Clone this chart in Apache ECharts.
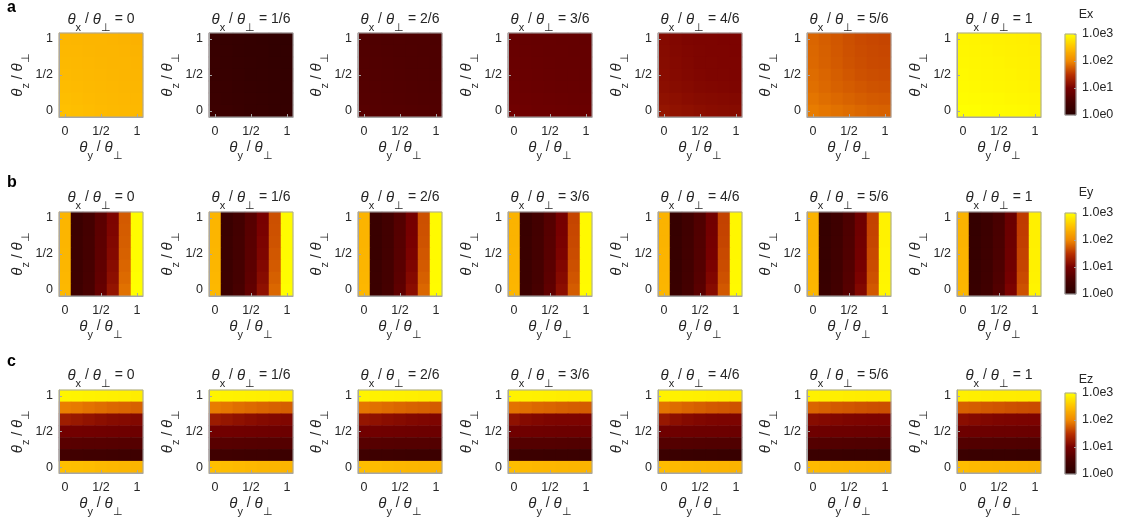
<!DOCTYPE html>
<html>
<head>
<meta charset="utf-8">
<script src="https://cdn.jsdelivr.net/npm/echarts/dist/echarts.min.js"></script>
<style>
html, body { margin: 0; padding: 0; background: #ffffff; }
#chart { width: 1121px; height: 518px; }
</style>
</head>
<body>
<div id="chart"></div>
<script>
// Field magnitudes as log10 values (colour scale 1.0e0 .. 1.0e3).
// Each panel is a 7x7 grid; rows run from the top (θz/θ⊥ = 1) down to θz/θ⊥ = 0,
// columns run from θy/θ⊥ = 0 to 1.

const thetaXLabels = ['0', '1/6', '2/6', '3/6', '4/6', '5/6', '1'];
const tickCats = ['0', '1/6', '1/3', '1/2', '2/3', '5/6', '1'];
const fieldNames = ['Ex', 'Ey', 'Ez'];
const rowLetters = ['a', 'b', 'c'];
const colorbarExponents = [0, 1, 2, 3];

const logEx = [
  [ // θx/θ⊥ = 0
    [2.42, 2.41, 2.40, 2.40, 2.39, 2.38, 2.37],
    [2.43, 2.42, 2.41, 2.40, 2.40, 2.39, 2.38],
    [2.44, 2.43, 2.42, 2.41, 2.40, 2.40, 2.39],
    [2.45, 2.44, 2.43, 2.42, 2.41, 2.40, 2.40],
    [2.46, 2.45, 2.44, 2.43, 2.42, 2.41, 2.41],
    [2.48, 2.46, 2.45, 2.44, 2.43, 2.42, 2.42],
    [2.50, 2.48, 2.46, 2.45, 2.44, 2.43, 2.43]
  ],
  [ // 1/6
    [0.24, 0.22, 0.20, 0.18, 0.17, 0.15, 0.14],
    [0.25, 0.23, 0.21, 0.19, 0.18, 0.16, 0.15],
    [0.26, 0.24, 0.22, 0.20, 0.19, 0.17, 0.16],
    [0.27, 0.25, 0.23, 0.21, 0.20, 0.18, 0.17],
    [0.28, 0.26, 0.24, 0.22, 0.21, 0.19, 0.18],
    [0.30, 0.27, 0.25, 0.23, 0.22, 0.20, 0.19],
    [0.32, 0.29, 0.26, 0.24, 0.23, 0.21, 0.20]
  ],
  [ // 2/6
    [0.58, 0.57, 0.56, 0.56, 0.55, 0.55, 0.54],
    [0.59, 0.58, 0.57, 0.56, 0.56, 0.55, 0.55],
    [0.60, 0.59, 0.58, 0.57, 0.56, 0.56, 0.55],
    [0.61, 0.60, 0.59, 0.58, 0.57, 0.57, 0.56],
    [0.62, 0.61, 0.60, 0.59, 0.58, 0.57, 0.57],
    [0.64, 0.62, 0.61, 0.60, 0.59, 0.58, 0.58],
    [0.66, 0.64, 0.63, 0.62, 0.61, 0.60, 0.59]
  ],
  [ // 3/6
    [0.82, 0.81, 0.80, 0.80, 0.79, 0.79, 0.78],
    [0.83, 0.82, 0.81, 0.80, 0.80, 0.79, 0.79],
    [0.84, 0.83, 0.82, 0.81, 0.80, 0.80, 0.79],
    [0.85, 0.84, 0.83, 0.82, 0.81, 0.81, 0.80],
    [0.87, 0.85, 0.84, 0.83, 0.82, 0.82, 0.81],
    [0.89, 0.87, 0.86, 0.85, 0.84, 0.83, 0.83],
    [0.92, 0.90, 0.88, 0.87, 0.86, 0.85, 0.85]
  ],
  [ // 4/6
    [1.10, 1.07, 1.05, 1.04, 1.04, 1.03, 1.03],
    [1.11, 1.08, 1.06, 1.05, 1.04, 1.04, 1.03],
    [1.12, 1.09, 1.07, 1.05, 1.05, 1.04, 1.04],
    [1.13, 1.10, 1.08, 1.06, 1.05, 1.05, 1.04],
    [1.15, 1.12, 1.10, 1.08, 1.07, 1.06, 1.05],
    [1.18, 1.16, 1.13, 1.11, 1.10, 1.09, 1.08],
    [1.22, 1.19, 1.17, 1.15, 1.13, 1.12, 1.11]
  ],
  [ // 5/6
    [1.80, 1.76, 1.72, 1.68, 1.65, 1.63, 1.62],
    [1.81, 1.77, 1.73, 1.69, 1.66, 1.64, 1.63],
    [1.82, 1.78, 1.74, 1.70, 1.67, 1.65, 1.64],
    [1.84, 1.80, 1.76, 1.72, 1.69, 1.67, 1.66],
    [1.86, 1.82, 1.78, 1.75, 1.72, 1.70, 1.69],
    [1.89, 1.85, 1.82, 1.79, 1.76, 1.74, 1.73],
    [1.93, 1.90, 1.87, 1.84, 1.81, 1.79, 1.78]
  ],
  [ // 1
    [2.92, 2.91, 2.90, 2.89, 2.88, 2.87, 2.86],
    [2.93, 2.92, 2.91, 2.90, 2.89, 2.88, 2.87],
    [2.94, 2.93, 2.92, 2.91, 2.90, 2.89, 2.88],
    [2.95, 2.94, 2.93, 2.92, 2.91, 2.90, 2.89],
    [2.96, 2.95, 2.94, 2.93, 2.92, 2.91, 2.90],
    [2.98, 2.97, 2.96, 2.95, 2.94, 2.93, 2.92],
    [3.00, 2.99, 2.98, 2.97, 2.96, 2.95, 2.94]
  ]
];

const logEy = [
  [ // θx/θ⊥ = 0
    [2.40, 0.30, 0.44, 0.70, 1.04, 1.74, 2.98],
    [2.40, 0.30, 0.44, 0.71, 1.05, 1.75, 2.98],
    [2.40, 0.31, 0.45, 0.72, 1.07, 1.76, 2.98],
    [2.41, 0.31, 0.46, 0.73, 1.09, 1.78, 2.98],
    [2.41, 0.32, 0.47, 0.75, 1.12, 1.80, 2.98],
    [2.42, 0.33, 0.48, 0.77, 1.16, 1.83, 2.99],
    [2.43, 0.34, 0.50, 0.80, 1.21, 1.87, 3.00]
  ],
  [ // 1/6
    [2.40, 0.28, 0.42, 0.66, 1.00, 1.68, 2.97],
    [2.40, 0.28, 0.42, 0.67, 1.01, 1.69, 2.97],
    [2.40, 0.29, 0.43, 0.68, 1.03, 1.70, 2.97],
    [2.41, 0.29, 0.44, 0.69, 1.05, 1.72, 2.97],
    [2.41, 0.30, 0.45, 0.71, 1.08, 1.74, 2.98],
    [2.42, 0.31, 0.46, 0.73, 1.12, 1.77, 2.98],
    [2.43, 0.32, 0.48, 0.76, 1.17, 1.81, 2.99]
  ],
  [ // 2/6
    [2.39, 0.26, 0.40, 0.63, 0.97, 1.68, 2.96],
    [2.39, 0.26, 0.40, 0.64, 0.98, 1.69, 2.96],
    [2.39, 0.27, 0.41, 0.65, 1.00, 1.70, 2.96],
    [2.40, 0.27, 0.42, 0.66, 1.02, 1.72, 2.96],
    [2.40, 0.28, 0.43, 0.68, 1.05, 1.74, 2.97],
    [2.41, 0.29, 0.44, 0.70, 1.09, 1.77, 2.97],
    [2.42, 0.30, 0.46, 0.73, 1.14, 1.81, 2.98]
  ],
  [ // 3/6
    [2.38, 0.27, 0.42, 0.64, 0.98, 1.62, 2.95],
    [2.38, 0.27, 0.42, 0.65, 0.99, 1.63, 2.95],
    [2.38, 0.28, 0.43, 0.66, 1.01, 1.64, 2.95],
    [2.39, 0.28, 0.44, 0.67, 1.03, 1.66, 2.95],
    [2.39, 0.29, 0.45, 0.69, 1.06, 1.68, 2.96],
    [2.40, 0.30, 0.46, 0.71, 1.10, 1.71, 2.96],
    [2.41, 0.31, 0.48, 0.74, 1.15, 1.75, 2.97]
  ],
  [ // 4/6
    [2.38, 0.22, 0.38, 0.58, 0.94, 1.60, 2.94],
    [2.38, 0.22, 0.38, 0.59, 0.95, 1.61, 2.94],
    [2.38, 0.23, 0.39, 0.60, 0.97, 1.62, 2.94],
    [2.39, 0.23, 0.40, 0.61, 0.99, 1.64, 2.94],
    [2.39, 0.24, 0.41, 0.63, 1.02, 1.66, 2.95],
    [2.40, 0.25, 0.42, 0.65, 1.06, 1.69, 2.95],
    [2.41, 0.26, 0.44, 0.68, 1.11, 1.73, 2.96]
  ],
  [ // 5/6
    [2.38, 0.22, 0.35, 0.55, 0.90, 1.60, 2.90],
    [2.38, 0.22, 0.35, 0.56, 0.91, 1.61, 2.90],
    [2.38, 0.23, 0.36, 0.57, 0.93, 1.62, 2.90],
    [2.39, 0.23, 0.37, 0.58, 0.95, 1.64, 2.91],
    [2.39, 0.24, 0.38, 0.60, 0.98, 1.66, 2.91],
    [2.40, 0.25, 0.39, 0.62, 1.02, 1.69, 2.92],
    [2.41, 0.26, 0.41, 0.65, 1.07, 1.73, 2.93]
  ],
  [ // 1
    [2.38, 0.21, 0.32, 0.50, 0.85, 1.56, 2.88],
    [2.38, 0.21, 0.32, 0.51, 0.86, 1.57, 2.88],
    [2.38, 0.22, 0.33, 0.52, 0.88, 1.58, 2.88],
    [2.39, 0.22, 0.34, 0.53, 0.90, 1.60, 2.89],
    [2.39, 0.23, 0.35, 0.55, 0.93, 1.62, 2.89],
    [2.40, 0.24, 0.36, 0.57, 0.97, 1.65, 2.90],
    [2.41, 0.25, 0.38, 0.60, 1.02, 1.69, 2.91]
  ]
];

const logEz = [
  [ // θx/θ⊥ = 0
    [2.92, 2.91, 2.90, 2.89, 2.88, 2.87, 2.86],
    [1.95, 1.92, 1.88, 1.85, 1.82, 1.80, 1.78],
    [1.30, 1.25, 1.20, 1.16, 1.12, 1.10, 1.08],
    [0.95, 0.94, 0.93, 0.92, 0.91, 0.90, 0.89],
    [0.68, 0.67, 0.66, 0.66, 0.65, 0.64, 0.64],
    [0.40, 0.39, 0.38, 0.37, 0.36, 0.35, 0.34],
    [2.50, 2.48, 2.46, 2.44, 2.42, 2.41, 2.40]
  ],
  [ // 1/6
    [2.91, 2.90, 2.89, 2.88, 2.87, 2.86, 2.85],
    [1.93, 1.90, 1.86, 1.83, 1.80, 1.78, 1.76],
    [1.28, 1.23, 1.18, 1.14, 1.10, 1.08, 1.06],
    [0.94, 0.93, 0.92, 0.91, 0.90, 0.89, 0.88],
    [0.67, 0.66, 0.65, 0.64, 0.63, 0.62, 0.62],
    [0.38, 0.37, 0.36, 0.35, 0.34, 0.33, 0.32],
    [2.49, 2.47, 2.45, 2.43, 2.41, 2.40, 2.39]
  ],
  [ // 2/6
    [2.91, 2.90, 2.89, 2.88, 2.87, 2.86, 2.85],
    [1.90, 1.87, 1.84, 1.81, 1.79, 1.77, 1.75],
    [1.22, 1.18, 1.14, 1.11, 1.08, 1.06, 1.05],
    [0.93, 0.92, 0.91, 0.90, 0.89, 0.88, 0.88],
    [0.66, 0.65, 0.64, 0.63, 0.62, 0.62, 0.61],
    [0.36, 0.35, 0.34, 0.33, 0.32, 0.31, 0.31],
    [2.48, 2.46, 2.44, 2.42, 2.41, 2.40, 2.39]
  ],
  [ // 3/6
    [2.90, 2.89, 2.88, 2.87, 2.86, 2.85, 2.85],
    [1.88, 1.85, 1.82, 1.80, 1.78, 1.76, 1.75],
    [1.18, 1.10, 1.07, 1.05, 1.04, 1.04, 1.03],
    [0.92, 0.91, 0.90, 0.89, 0.88, 0.88, 0.87],
    [0.64, 0.63, 0.62, 0.62, 0.61, 0.60, 0.60],
    [0.33, 0.32, 0.31, 0.30, 0.29, 0.29, 0.28],
    [2.47, 2.45, 2.43, 2.42, 2.41, 2.40, 2.39]
  ],
  [ // 4/6
    [2.90, 2.89, 2.88, 2.87, 2.86, 2.85, 2.84],
    [1.88, 1.84, 1.80, 1.77, 1.74, 1.72, 1.70],
    [1.24, 1.16, 1.10, 1.07, 1.05, 1.04, 1.04],
    [0.91, 0.90, 0.89, 0.88, 0.87, 0.87, 0.86],
    [0.63, 0.62, 0.61, 0.60, 0.59, 0.59, 0.58],
    [0.30, 0.29, 0.28, 0.27, 0.26, 0.25, 0.25],
    [2.46, 2.44, 2.42, 2.41, 2.40, 2.39, 2.38]
  ],
  [ // 5/6
    [2.89, 2.88, 2.87, 2.86, 2.85, 2.84, 2.84],
    [1.80, 1.77, 1.74, 1.72, 1.70, 1.68, 1.67],
    [1.12, 1.09, 1.07, 1.05, 1.04, 1.03, 1.03],
    [0.90, 0.89, 0.88, 0.87, 0.86, 0.86, 0.85],
    [0.62, 0.61, 0.60, 0.59, 0.58, 0.58, 0.57],
    [0.30, 0.29, 0.28, 0.27, 0.26, 0.26, 0.25],
    [2.45, 2.43, 2.41, 2.40, 2.39, 2.38, 2.37]
  ],
  [ // 1
    [2.88, 2.87, 2.86, 2.85, 2.85, 2.84, 2.84],
    [1.78, 1.76, 1.73, 1.71, 1.69, 1.67, 1.66],
    [1.14, 1.10, 1.07, 1.05, 1.04, 1.03, 1.03],
    [0.89, 0.88, 0.87, 0.86, 0.86, 0.85, 0.85],
    [0.61, 0.60, 0.59, 0.58, 0.58, 0.57, 0.57],
    [0.29, 0.28, 0.27, 0.26, 0.26, 0.25, 0.25],
    [2.46, 2.44, 2.42, 2.41, 2.40, 2.39, 2.38]
  ]
];

const fieldData = [logEx, logEy, logEz];

// dark red -> red -> orange -> yellow, on log10 units 0..3
const colormap = ['#280000', '#480000', '#780000', '#b83000', '#f08800', '#ffc000', '#ffff00'];

const FONT = '"Liberation Sans", Arial, Helvetica, sans-serif';
const TEXT = '#262626';
const FRAME = '#a6a6a6';

const rich = {
  t: { fontFamily: FONT, fontStyle: 'italic', fontWeight: 'normal', fontSize: 15, lineHeight: 17, verticalAlign: 'top', color: TEXT },
  s: { fontFamily: FONT, fontWeight: 'normal', fontSize: 11, lineHeight: 11, padding: [10, 0, 0, 0], verticalAlign: 'top', color: TEXT },
  n: { fontFamily: FONT, fontWeight: 'normal', fontSize: 14, lineHeight: 17, verticalAlign: 'top', color: TEXT }
};
function ratioText(sub, tail) {
  return '{t|θ}{s|' + sub + '}{n| / }{t|θ}{s|⊥}{n|' + tail + '}';
}

// 7 cells of 12 px each, so cell edges fall on whole pixels
const PANEL_W = 84, PANEL_H = 84;
const panelLefts = [59, 209, 358, 508, 658, 807, 957];
const rowTop = [33, 212, 390];
const titleTop = [12, 190, 368];
const letterTop = [0, 175, 354];
const cbLeft = 1065, cbWidth = 11, cbHeight = 81;
const cbTop = [34, 213, 393];
const cbTitleTop = [8, 186, 373];
const RAMP_STEPS = 81;

const grids = [], xAxes = [], yAxes = [], series = [], titles = [];

for (let r = 0; r < 3; r++) {
  titles.push({
    text: rowLetters[r], left: 7, top: letterTop[r], padding: 0,
    textStyle: { fontFamily: FONT, fontWeight: 'bold', fontSize: 16, color: '#000' }
  });
  for (let p = 0; p < 7; p++) {
    const g = grids.length;
    const left = panelLefts[p];
    grids.push({
      left: left, top: rowTop[r], width: PANEL_W, height: PANEL_H,
      show: true, borderColor: FRAME, borderWidth: 1, backgroundColor: 'transparent', z: 5
    });
    xAxes.push({
      type: 'category', gridIndex: g, data: tickCats, z: 5,
      axisLine: { show: true, lineStyle: { color: FRAME } },
      axisTick: { show: true, inside: true, length: 3, interval: 2, alignWithLabel: true, lineStyle: { color: FRAME } },
      axisLabel: { interval: 2, fontFamily: FONT, fontSize: 12.5, color: TEXT, margin: 8 },
      splitLine: { show: false },
      name: ratioText('y', ''), nameLocation: 'middle', nameGap: 23,
      nameTextStyle: { rich: rich }
    });
    yAxes.push({
      type: 'category', gridIndex: g, data: tickCats, z: 5,
      axisLine: { show: true, lineStyle: { color: FRAME } },
      axisTick: { show: true, inside: true, length: 3, interval: 2, alignWithLabel: true, lineStyle: { color: FRAME } },
      axisLabel: { interval: 2, fontFamily: FONT, fontSize: 12.5, color: TEXT, margin: 6 },
      splitLine: { show: false },
      name: ratioText('z', ''), nameLocation: 'middle', nameGap: 24, nameRotate: 90,
      nameTextStyle: { rich: rich }
    });
    const grid = fieldData[r][p];
    const cells = [];
    for (let row = 0; row < 7; row++) {
      for (let col = 0; col < 7; col++) {
        cells.push([col, 6 - row, grid[row][col]]);
      }
    }
    series.push({
      type: 'heatmap', xAxisIndex: g, yAxisIndex: g, data: cells,
      emphasis: { disabled: true }, progressive: 0, animation: false
    });
    titles.push({
      text: ratioText('x', ' = ' + thetaXLabels[p]),
      left: left + PANEL_W / 2, top: titleTop[r], textAlign: 'center', padding: 0,
      textStyle: { rich: rich, fontWeight: 'normal' }
    });
  }
}

// colour bars: one ramp per field, labelled on a log axis
const rampCats = [];
for (let k = 0; k < RAMP_STEPS; k++) rampCats.push(String(k));
for (let r = 0; r < 3; r++) {
  const g = grids.length;
  grids.push({
    left: cbLeft, top: cbTop[r], width: cbWidth, height: cbHeight,
    show: true, borderColor: FRAME, borderWidth: 1, backgroundColor: 'transparent', z: 5
  });
  const xi = xAxes.length;
  xAxes.push({ type: 'category', gridIndex: g, data: ['0'], show: false });
  const yi = yAxes.length;
  yAxes.push({ type: 'category', gridIndex: g, data: rampCats, show: false });
  yAxes.push({
    type: 'log', gridIndex: g, logBase: 10, min: Math.pow(10, colorbarExponents[0]),
    max: Math.pow(10, colorbarExponents[colorbarExponents.length - 1]),
    splitNumber: 3, position: 'right', z: 5,
    axisLine: { show: false },
    axisTick: { show: true, inside: true, length: 2, lineStyle: { color: FRAME } },
    axisLabel: {
      fontFamily: FONT, fontSize: 12.5, color: TEXT, margin: 6,
      formatter: v => '1.0e' + Math.round(Math.log10(v))
    },
    splitLine: { show: false }
  });
  const ramp = [];
  for (let k = 0; k < RAMP_STEPS; k++) ramp.push([0, k, 3 * (k + 0.5) / RAMP_STEPS]);
  series.push({
    type: 'heatmap', xAxisIndex: xi, yAxisIndex: yi, data: ramp,
    emphasis: { disabled: true }, progressive: 0, animation: false
  });
  titles.push({
    text: fieldNames[r], left: 1086, top: cbTitleTop[r], textAlign: 'center', padding: 0,
    textStyle: { fontFamily: FONT, fontSize: 12.5, fontWeight: 'normal', color: TEXT }
  });
}

const chart = echarts.init(document.getElementById('chart'), null, { renderer: 'canvas' });
chart.setOption({
  backgroundColor: '#ffffff',
  animation: false,
  title: titles,
  grid: grids,
  xAxis: xAxes,
  yAxis: yAxes,
  visualMap: {
    type: 'continuous', show: false, min: 0, max: 3,
    seriesIndex: series.map((s, i) => i),
    inRange: { color: colormap }
  },
  series: series
});
</script>
</body>
</html>
